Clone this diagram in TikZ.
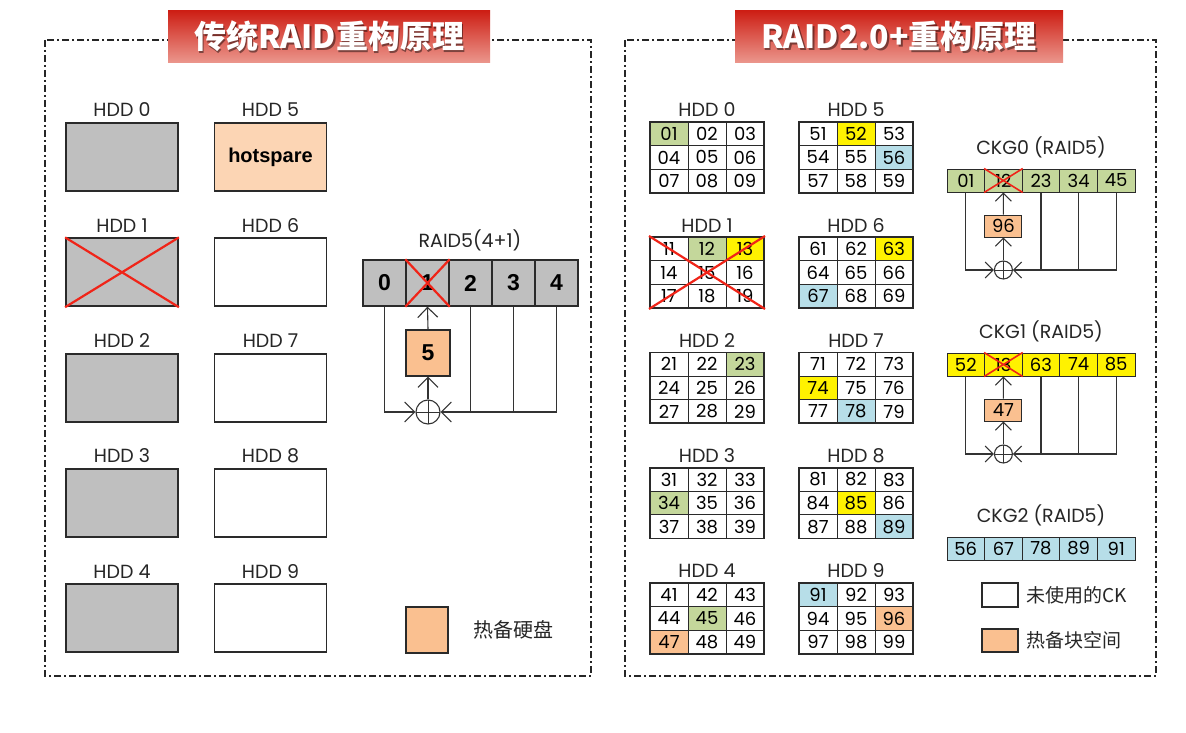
\documentclass[tikz,border=0pt]{standalone}
\usepackage{fontspec}
\setmainfont{Poppins}
\newfontfamily\cjk{Noto Sans CJK SC}
\newfontfamily\arl{Liberation Sans}
\usetikzlibrary{arrows.meta}
\definecolor{cgray}{HTML}{BFBFBF}
\definecolor{cpeach}{HTML}{FAC090}
\definecolor{clpeach}{HTML}{FCD5B4}
\definecolor{cgreen}{HTML}{C4D79B}
\definecolor{cyellow}{HTML}{FFF200}
\definecolor{cblue}{HTML}{B7DEE8}
\definecolor{cred}{HTML}{F02418}
\definecolor{tred}{HTML}{C80A00}
\definecolor{ttop}{HTML}{CD1E14}
\definecolor{tbot}{HTML}{EB968C}
\definecolor{edge}{HTML}{2A2A2A}
\begin{document}
\begin{tikzpicture}[x=1pt,y=-1pt,
  frame/.style={draw=black!85,line width=1.5pt,dash pattern=on 7pt off 3pt on 2pt off 3pt},
  titlebox/.style={minimum width=322pt,minimum height=52pt,inner sep=0pt,
    top color=ttop,middle color=tred,bottom color=tbot},
  titletext/.style={text=white,font=\cjk\bfseries\fontsize{32}{34}\selectfont,inner sep=0pt},
  shadowtext/.style={text=black,opacity=0.45,font=\cjk\bfseries\fontsize{32}{34}\selectfont,inner sep=0pt},
  lbl/.style={font=\fontsize{19}{21}\selectfont,text=black!85,inner sep=0pt},
  hddbox/.style={draw=edge,line width=1.8pt,minimum width=112pt,minimum height=68pt,inner sep=0pt},
  rcell/.style={draw=edge,line width=1.3pt,fill=cgray,minimum width=43pt,minimum height=46pt,inner sep=0pt,
    font=\arl\bfseries\fontsize{23}{25}\selectfont},
  redx/.style={draw=cred,line width=2.2pt},
  conn/.style={draw=black!80,line width=1.1pt},
  barb/.style={-{Straight Barb[length=10pt,width=20pt,line width=1.1pt]}},
  sbarb/.style={-{Straight Barb[length=8pt,width=16pt,line width=1pt]}},
  xorc/.style={circle,draw=black!80,line width=1.1pt,inner sep=0pt,
    path picture={\draw[black!80,line width=1pt] (path picture bounding box.north) -- (path picture bounding box.south)
      (path picture bounding box.west) -- (path picture bounding box.east);}},
  cell/.style={draw=edge,line width=1pt,minimum width=38pt,minimum height=23.6pt,inner sep=0pt,
    font=\fontsize{18}{20}\selectfont},
  kcell/.style={draw=edge,line width=1pt,minimum width=37.6pt,minimum height=23pt,inner sep=0pt,
    font=\fontsize{18}{20}\selectfont},
  legbox/.style={draw=edge,line width=1.6pt,inner sep=0pt},
  cjktext/.style={font=\cjk\fontsize{19}{21}\selectfont,text=black!85,inner sep=0pt},
  c01/.style={fill=cgreen}, c12/.style={fill=cgreen}, c13/.style={fill=cyellow},
  c23/.style={fill=cgreen}, c34/.style={fill=cgreen}, c45/.style={fill=cgreen},
  c47/.style={fill=cpeach}, c52/.style={fill=cyellow}, c56/.style={fill=cblue},
  c63/.style={fill=cyellow}, c67/.style={fill=cblue}, c74/.style={fill=cyellow},
  c78/.style={fill=cblue}, c85/.style={fill=cyellow}, c89/.style={fill=cblue},
  c91/.style={fill=cblue}, c96/.style={fill=cpeach}
]
\useasboundingbox (0,0) rectangle (1186,733);
\fill[white] (0,0) rectangle (1186,733);

% frames
\draw[frame] (45,40) rectangle (591,676);
\draw[frame] (625,40) rectangle (1156,676);

% titles
\node[titlebox] (t1) at (329,36.5) {};
\node[shadowtext] (t1s) at (330.8,38.3) {传统RAID重构原理};
\node[titletext] (t1t) at (329,36.5) {传统RAID重构原理};
\node[titlebox,minimum width=328pt] (t2) at (899,36.5) {};
\node[shadowtext] (t2s) at (900.8,38.3) {RAID2.0+重构原理};
\node[titletext] (t2t) at (899,36.5) {RAID2.0+重构原理};

% ---------- left: traditional RAID ----------
\foreach \i in {0,...,4}{
  \node[hddbox,fill=cgray] (L\i) at (122,{157+115.3*\i}) {};
  \node[lbl] (Ll\i) at (122,{110+115.3*\i}) {HDD \i};
}
\foreach \i in {6,...,9}{
  \node[hddbox,fill=white] (L\i) at (270.5,{157+115.3*(\i-5)}) {};
  \node[lbl] (Ll\i) at (270.5,{110+115.3*(\i-5)}) {HDD \i};
}
\node[hddbox,fill=clpeach,font=\arl\bfseries\fontsize{20}{22}\selectfont] (L5) at (270.5,157) {hotspare};
\node[lbl] (Ll5) at (270.5,110) {HDD 5};
\draw[redx] (L1.north west) -- (L1.south east) (L1.north east) -- (L1.south west);

% RAID5(4+1)
\node[lbl] (rl) at (470,240) {RAID5(4+1)};
\foreach \k in {0,...,4}{
  \node[rcell] (c\k) at ({384.5+43*\k},283) {\k};
}
\draw[redx] (c1.north west) -- (c1.south east) (c1.north east) -- (c1.south west);
\node[rcell,fill=cpeach,minimum width=44pt] (l5) at (428,353) {5};
\node[xorc,minimum size=24pt] (lx) at (428,412) {};
\draw[conn,barb] (c0.south) |- (lx.west);
\draw[conn,barb] (c4.south) |- (lx.east);
\draw[conn] (c2.south) -- (c2.south |- lx.center);
\draw[conn] (c3.south) -- (c3.south |- lx.center);
\draw[conn,barb] (lx.north) -- (l5.south);
\draw[conn,barb] (l5.north) -- (c1.south);

% legend left
\node[legbox,fill=cpeach,minimum width=42pt,minimum height=46pt] (lg) at (427,630) {};
\node[cjktext,font=\cjk\fontsize{20}{22}\selectfont] (lgt) at (513,630) {热备硬盘};

% ---------- right: RAID2.0+ ----------
\foreach \d in {0,...,9}{
  \pgfmathtruncatemacro\col{\d/5}
  \pgfmathtruncatemacro\row{mod(\d,5)}
  \pgfmathsetmacro\gx{650+149*\col}
  \pgfmathsetmacro\gy{122+115.25*\row}
  \node[lbl] (rl\d) at (\gx+57,\gy-12) {HDD \d};
  \foreach \r in {0,1,2}{
    \foreach \c in {0,1,2}{
      \pgfmathtruncatemacro\k{\r*3+\c+1}
      \node[cell,c\d\k/.try] (r\d\k) at (\gx+19+38*\c,\gy+11.8+23.6*\r) {\d\k};
    }
  }
  \draw[edge,line width=1.8pt] (\gx,\gy) rectangle ++(114,70.8);
}
\draw[redx] (649,236) -- (765,309) (765,236) -- (649,309);

% CKG groups
\foreach \g/\top/\fc/\nums/\sp in {0/169/cgreen/{01,12,23,34,45}/96, 1/353/cyellow/{52,13,63,74,85}/47}{
  \node[lbl] (kl\g) at (1041,\top-22) {CKG\g\ (RAID5)};
  \foreach \n [count=\k from 0] in \nums {
    \node[kcell,fill=\fc] (k\g\k) at ({965.8+37.6*\k},\top+11.5) {\n};
  }
  \draw[redx,line width=1.6pt] (k\g1.north west) -- (k\g1.south east) (k\g1.north east) -- (k\g1.south west);
  \node[kcell,fill=cpeach,minimum width=37pt,minimum height=22pt] (ks\g) at (1003.4,\top+57) {\sp};
  \node[xorc,minimum size=18pt] (kx\g) at (1003.4,\top+101) {};
  \draw[conn,sbarb] (k\g0.south) |- (kx\g.west);
  \draw[conn,sbarb] (k\g4.south) |- (kx\g.east);
  \draw[conn] (k\g2.south) -- (k\g2.south |- kx\g.center);
  \draw[conn] (k\g3.south) -- (k\g3.south |- kx\g.center);
  \draw[conn,sbarb] (kx\g.north) -- (ks\g.south);
  \draw[conn,sbarb] (ks\g.north) -- (k\g1.south);
}
\node[lbl] (kl2) at (1041,515) {CKG2 (RAID5)};
\foreach \n [count=\k from 0] in {56,67,78,89,91}{
  \node[kcell,fill=cblue] (k2\k) at ({965.8+37.6*\k},548.5) {\n};
}

% legend right
\node[legbox,fill=white,minimum width=36pt,minimum height=24pt] (rg1) at (1000,595) {};
\node[cjktext,anchor=west] (rg1t) at (1026,595) {未使用的CK};
\node[legbox,fill=cpeach,minimum width=36pt,minimum height=23pt] (rg2) at (1000,640.5) {};
\node[cjktext,anchor=west] (rg2t) at (1026,640.5) {热备块空间};
\end{tikzpicture}
\end{document}
